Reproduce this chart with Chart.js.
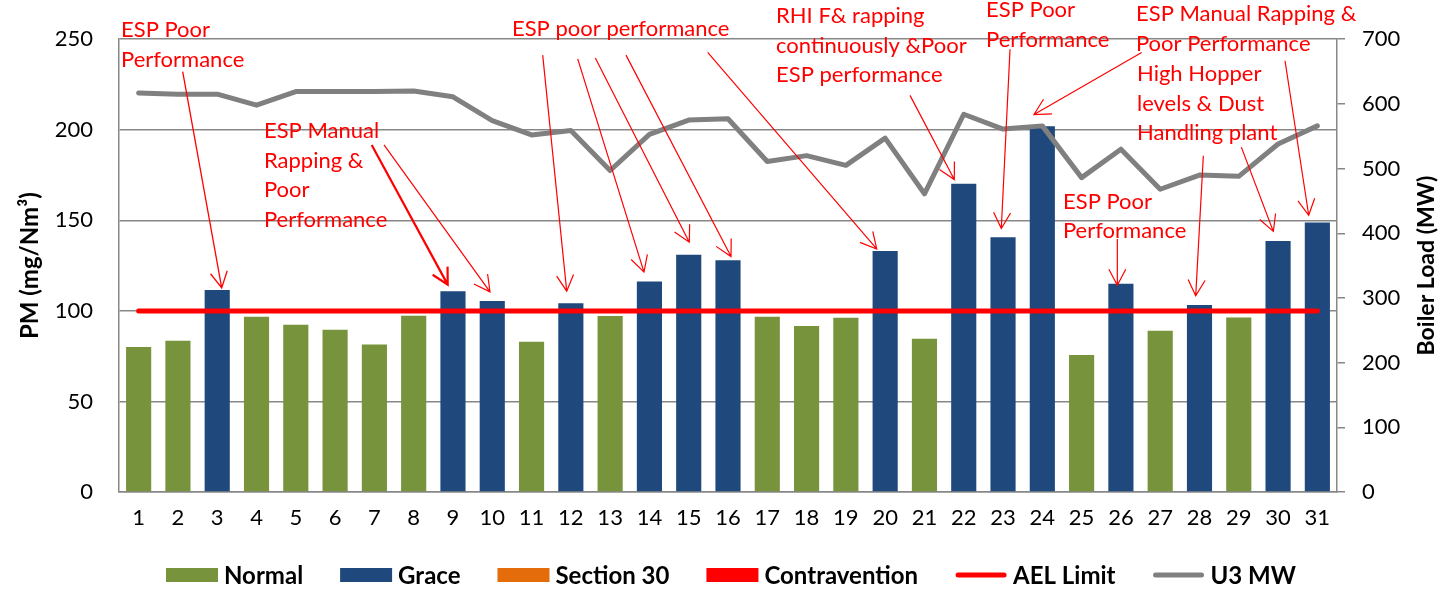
<!DOCTYPE html>
<html>
<head>
<meta charset="utf-8">
<script src="https://cdn.jsdelivr.net/npm/chart.js@4"></script>
<style>
  html, body { margin: 0; padding: 0; background: #fff; }
  #wrap { width: 1440px; height: 590px; }
</style>
</head>
<body>
<div id="wrap"><canvas id="c" width="1440" height="590"></canvas></div>
<script>
// ---- data ----
const days = ['1','2','3','4','5','6','7','8','9','10','11','12','13','14','15','16','17','18','19','20','21','22','23','24','25','26','27','28','29','30','31'];
const normalPM = [80, 83.5, null, 96.8, 92.3, 89.6, 81.5, 97.3, null, null, 83, null, 97.2, null, null, null, 96.8, 91.6, 96.2, null, 84.6, null, null, null, 75.6, null, 89, null, 96.3, null, null];
const gracePM  = [null, null, 111.5, null, null, null, null, null, 110.8, 105.5, null, 104.2, null, 116.2, 131, 128, null, null, null, 133.1, null, 170.2, 140.6, 202, null, 115, null, 103.3, null, 138.6, 148.8];
const section30PM = [];
const contraventionPM = [];
const aelLimit = [100,100,100,100,100,100,100,100,100,100,100,100,100,100,100,100,100,100,100,100,100,100,100,100,100,100,100,100,100,100,100];
const u3MW = [617, 615, 615, 598, 619, 619, 619, 620, 611, 574, 552, 559, 497, 553, 575, 577, 511, 520, 505, 547, 461, 584, 561, 566, 486, 530, 468, 490, 488, 538, 566];
const pmTicks = [0, 50, 100, 150, 200, 250];
const mwTicks = [0, 100, 200, 300, 400, 500, 600, 700];

// annotation texts: anchor = [category index, PM value] of first baseline (left aligned)
const notes = [
  { at: [-0.449, 251.1], lines: ['ESP Poor', 'Performance'] },
  { at: [3.190, 195.3], lines: ['ESP Manual', 'Rapping &', 'Poor', 'Performance'] },
  { at: [9.502, 251.8], lines: ['ESP poor performance'] },
  { at: [16.222, 258.8], lines: ['RHI F& rapping', 'continuously &Poor', 'ESP performance'] },
  { at: [21.567, 262.2], lines: ['ESP Poor', 'Performance'] },
  { at: [25.384, 260.0], lines: ['ESP Manual Rapping &', 'Poor Performance'] },
  { at: [25.41, 226.9], lines: ['High Hopper', 'levels & Dust', 'Handling plant'] },
  { at: [23.526, 156.5], lines: ['ESP Poor', 'Performance'] }
];
// arrows: from [idx, PM] to [idx, PM]
const arrows = [
  { from: [1.121, 232.1], to: [2.114, 112.7], w: 1.3 },
  { from: [5.932, 191.6], to: [7.866, 114.5], w: 2.2 },
  { from: [6.245, 191.6], to: [8.943, 110.5], w: 1.2 },
  { from: [10.284, 241.2], to: [10.895, 110.9], w: 1.2 },
  { from: [11.175, 239.1], to: [12.862, 121.4], w: 1.2 },
  { from: [11.623, 239.6], to: [14.015, 137.9], w: 1.2 },
  { from: [12.404, 241.2], to: [15.077, 130.0], w: 1.2 },
  { from: [14.483, 242.7], to: [18.785, 134.2], w: 1.2 },
  { from: [19.632, 219.0], to: [20.760, 172.5], w: 1.2 },
  { from: [22.178, 244.5], to: [21.956, 145.5], w: 1.2 },
  { from: [25.529, 242.7], to: [22.788, 208.4], w: 1.2 },
  { from: [29.177, 238.1], to: [29.780, 152.8], w: 1.2 },
  { from: [28.065, 190.4], to: [28.879, 143.9], w: 1.2 },
  { from: [27.098, 185.6], to: [26.904, 108.3], w: 1.2 },
  { from: [24.909, 139.7], to: [24.909, 114.2], w: 1.2 }
];

// ---- styles ----
const FONT = 'Lato';
const GRID = '#878787';
const GREEN = '#77933C', BLUE = '#1F497D', ORANGE = '#E46C0A', RED = '#FF0000', GRAY = '#808080';

const notesPlugin = {
  id: 'notes',
  afterDraw(chart) {
    const { ctx, scales: { x, y } } = chart;
    // right axis title, reading bottom-to-top
    ctx.save();
    ctx.fillStyle = '#000';
    ctx.font = 'bold 23px ' + FONT;
    ctx.textAlign = 'center';
    ctx.textBaseline = 'middle';
    ctx.translate(1427, (chart.chartArea.top + chart.chartArea.bottom) / 2);
    ctx.rotate(-Math.PI / 2);
    ctx.fillText('Boiler Load (MW)', 0, 0);
    ctx.restore();

    // legend
    ctx.save();
    ctx.font = 'bold 24px ' + FONT;
    ctx.textBaseline = 'middle';
    ctx.textAlign = 'left';
    const items = chart.data.datasets.map(ds => ({
      text: ds.label,
      isLine: ds.type === 'line',
      color: ds.type === 'line' ? ds.borderColor : ds.backgroundColor
    }));
    const BOX = 52, GAP_T = 6, GAP_I = 37, LY = 575;
    let total = 0;
    items.forEach((it, i) => { it.w = ctx.measureText(it.text).width; total += BOX + GAP_T + it.w + (i ? GAP_I : 0); });
    let lx = 731 - total / 2;
    items.forEach(it => {
      if (it.isLine) {
        ctx.strokeStyle = it.color; ctx.lineWidth = 5; ctx.lineCap = 'round';
        ctx.beginPath(); ctx.moveTo(lx + 3, LY); ctx.lineTo(lx + BOX - 3, LY); ctx.stroke();
      } else {
        ctx.fillStyle = it.color; ctx.fillRect(lx, LY - 7, BOX, 14);
      }
      ctx.fillStyle = '#000';
      ctx.fillText(it.text, lx + BOX + GAP_T, LY + 1);
      lx += BOX + GAP_T + it.w + GAP_I;
    });
    ctx.restore();

    // annotations
    ctx.save();
    ctx.fillStyle = RED;
    ctx.strokeStyle = RED;
    ctx.font = '22px ' + FONT;
    ctx.textAlign = 'left';
    ctx.textBaseline = 'alphabetic';
    notes.forEach(n => {
      const px = x.getPixelForValue(n.at[0]);
      const py = y.getPixelForValue(n.at[1]);
      n.lines.forEach((l, i) => ctx.fillText(l, px, py + i * 29.5));
    });
    arrows.forEach(a => {
      const x0 = x.getPixelForValue(a.from[0]), y0 = y.getPixelForValue(a.from[1]);
      const x1 = x.getPixelForValue(a.to[0]), y1 = y.getPixelForValue(a.to[1]);
      ctx.lineWidth = a.w;
      ctx.beginPath();
      ctx.moveTo(x0, y0);
      ctx.lineTo(x1, y1);
      const ang = Math.atan2(y1 - y0, x1 - x0);
      const L = 18, h = 0.49;
      ctx.moveTo(x1 - L * Math.cos(ang - h), y1 - L * Math.sin(ang - h));
      ctx.lineTo(x1, y1);
      ctx.lineTo(x1 - L * Math.cos(ang + h), y1 - L * Math.sin(ang + h));
      ctx.stroke();
    });
    ctx.restore();
  }
};

new Chart(document.getElementById('c'), {
  type: 'bar',
  data: {
    labels: days,
    datasets: [
      { label: 'Normal', data: normalPM, backgroundColor: GREEN, order: 1, grouped: false },
      { label: 'Grace', data: gracePM, backgroundColor: BLUE, order: 1, grouped: false },
      { label: 'Section 30', data: section30PM, backgroundColor: ORANGE, order: 1, grouped: false },
      { label: 'Contravention', data: contraventionPM, backgroundColor: RED, order: 1, grouped: false },
      { type: 'line', label: 'AEL Limit', data: aelLimit, borderColor: RED, backgroundColor: RED, borderWidth: 5, pointRadius: 0, borderCapStyle: 'round', yAxisID: 'y', order: 0 },
      { type: 'line', label: 'U3 MW', data: u3MW, borderColor: GRAY, backgroundColor: GRAY, borderWidth: 5, pointRadius: 0, borderJoinStyle: 'round', borderCapStyle: 'round', yAxisID: 'y1', order: 0, tension: 0 }
    ]
  },
  options: {
    responsive: false,
    animation: false,
    devicePixelRatio: 1,
    categoryPercentage: 1,
    barPercentage: 0.64,
    layout: { padding: { top: 35, left: 0, right: 0, bottom: 0 } },
    plugins: {
      tooltip: { enabled: false },
      legend: { display: false }
    },
    scales: {
      x: {
        grid: { display: false, drawTicks: false },
        border: { display: true, color: GRID, width: 1.5 },
        ticks: { color: '#000', font: { family: FONT, size: 22 }, padding: 13, maxRotation: 0, autoSkip: false },
        afterFit(s) { s.height = s.chart.height - 492; }
      },
      y: {
        position: 'left',
        min: 0, max: 250,
        afterBuildTicks(s) { s.ticks = pmTicks.map(v => ({ value: v })); },
        grid: { color: GRID, lineWidth: 1.5, drawTicks: false },
        border: { display: true, color: GRID, width: 1.5 },
        ticks: { color: '#000', font: { family: FONT, size: 22 }, padding: 26 },
        title: { display: true, text: 'PM (mg/Nm³)', color: '#000', font: { family: FONT, size: 24, weight: 'bold' }, padding: { top: 16, bottom: 0 } },
        afterFit(s) { s.width = 119; }
      },
      y1: {
        position: 'right',
        min: 0, max: 700,
        afterBuildTicks(s) { s.ticks = mwTicks.map(v => ({ value: v })); },
        grid: { drawOnChartArea: false, color: GRID, lineWidth: 1.5, tickLength: 8 },
        border: { display: true, color: GRID, width: 1.5 },
        ticks: { color: '#000', font: { family: FONT, size: 22 }, padding: 17 },
        afterFit(s) { s.width = 103; }
      }
    }
  },
  plugins: [notesPlugin]
});
</script>
</body>
</html>
